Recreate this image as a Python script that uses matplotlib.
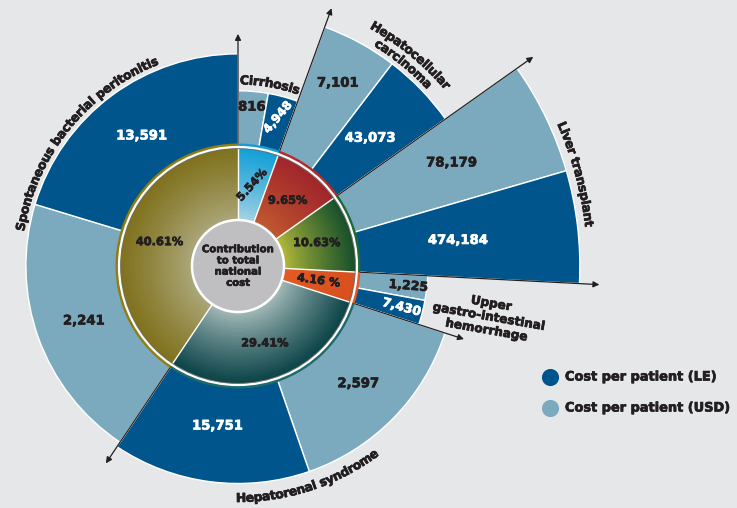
import numpy as np
import matplotlib.pyplot as plt
import matplotlib.patheffects as pe
from matplotlib.patches import Wedge, Circle
from matplotlib.colors import to_rgb
from matplotlib.font_manager import FontProperties, findfont, get_font

# data
categories = ['Cirrhosis', 'Hepatocellular carcinoma', 'Liver transplant',
              'Upper gastro-intestinal hemorrhage', 'Hepatorenal syndrome',
              'Spontaneous bacterial peritonitis']
share = [5.54, 9.65, 10.63, 4.16, 29.41, 40.61]          # % of total national cost
share_labels = ['5.54%', '9.65%', '10.63%', '4.16 %', '29.41%', '40.61%']
cost_le = [4948, 43073, 474184, 7430, 15751, 13591]
cost_usd = [816, 7101, 78179, 1225, 2597, 2241]

FONT = 'DejaVu Sans'
INK = '#231F20'
DARK = '#00558C'
LIGHT = '#7BAABF'
BG = '#E6E7E9'

ring_inner = ['#A8D4E4', '#C25A30', '#B4BA38', '#E35B26', '#A6BBBA', '#ADA87C']
ring_outer = ['#12A0D6', '#A2252A', '#17502B', '#D94F1E', '#0A4347', '#80711C']
ring_rim = ['#1A9BD0', '#B42A2A', '#1E6B35', '#E05A25', '#1F6B6C', '#8F7D12']

fig = plt.figure(figsize=(7.37, 5.08), dpi=100, facecolor=BG)
ax = fig.add_axes([0, 0, 1, 1])
ax.set_xlim(0, 737)
ax.set_ylim(0, 508)
ax.set_aspect('equal')
ax.axis('off')

cx, cy = 238, 242
r_hole, r_ring = 46, 119


def heavy(color):
    # the original uses a heavier typeface than DejaVu bold
    return [pe.withStroke(linewidth=0.5, foreground=color)]


def radius(v):
    # log scale for the outer bars
    return 84.1 * np.log10(v) - 135.5


def th(cw):
    return 90 - cw


def polar(r, t):
    return cx + r * np.cos(np.radians(t)), cy + r * np.sin(np.radians(t))


bounds = np.concatenate([[0], np.cumsum(share)]) * 360 / 100
R = [radius(v) for v in cost_le]
n = len(categories)

# outer bars: USD half first (clockwise), then LE half
for i in range(n):
    a0, a1 = bounds[i], bounds[i + 1]
    am = (a0 + a1) / 2
    ax.add_patch(Wedge((cx, cy), R[i], th(am), th(a0), fc=LIGHT, ec='white', lw=1, zorder=1))
    ax.add_patch(Wedge((cx, cy), R[i], th(a1), th(am), fc=DARK, ec='white', lw=1, zorder=1))

# arrows on category borders
for k in range(n):
    L = max(R[k - 1], R[k]) + 20
    b = bounds[k]
    ax.annotate('', xy=polar(L, th(b)), xytext=polar(r_ring, th(b)),
                arrowprops=dict(arrowstyle='-|>', color=INK, lw=0.9,
                                mutation_scale=9, shrinkA=0, shrinkB=0), zorder=2)

# inner ring with radial shading
steps = 30
w = (r_ring - r_hole) / steps
for i in range(n):
    c0, c1 = np.array(to_rgb(ring_inner[i])), np.array(to_rgb(ring_outer[i]))
    a0, a1 = bounds[i], bounds[i + 1]
    ax.add_patch(Wedge((cx, cy), r_ring + 3.5, th(a1), th(a0), width=6,
                       fc=ring_rim[i], ec='none', zorder=3))
    for j in range(steps):
        t = (j / (steps - 1)) ** 0.85
        col = (1 - t) * c0 + t * c1
        ax.add_patch(Wedge((cx, cy), r_hole + w * (j + 1), th(a1), th(a0),
                           width=w + 0.6, fc=col, ec='none', zorder=3))
    x0, y0 = polar(r_hole, th(a0))
    x1, y1 = polar(r_ring, th(a0))
    ax.plot([x0, x1], [y0, y1], color='white', lw=1, zorder=4)

ax.add_patch(Circle((cx, cy), r_ring - 1.6, fill=False, ec='#6E6E6E', lw=0.7, zorder=4))
ax.add_patch(Circle((cx, cy), r_ring, fill=False, ec='white', lw=1.6, zorder=4))
ax.add_patch(Circle((cx, cy), r_hole, fc='#BFBFC1', ec='white', lw=1.8, zorder=4))

ax.text(cx, cy, 'Contribution\nto total\nnational\ncost', ha='center', va='center',
        fontsize=7.3, family=FONT, weight='bold', color=INK, linespacing=1.15, zorder=6,
        path_effects=heavy(INK))

# share labels
pct_rot = [48, 0, 0, -8, 0, 0]
for i in range(n):
    am = (bounds[i] + bounds[i + 1]) / 2
    x, y = polar(82, th(am))
    ax.text(x, y, share_labels[i], ha='center', va='center', rotation=pct_rot[i],
            fontsize=8.2, family=FONT, weight='bold', color=INK, zorder=6,
            path_effects=heavy(INK))

# cost labels
frac_usd = [0.72, 0.66, 0.53, 0.74, 0.5, 0.48]
frac_le = [0.62, 0.48, 0.46, 0.7, 0.43, 0.46]
rot_usd = [0, 0, 0, -5, 0, 0]
rot_le = [50, 0, 0, -15, 0, 0]
fs_usd = [9.5, 9.5, 9.5, 9, 9.5, 9.5]
fs_le = [8.6, 9.5, 9.5, 9, 9.5, 9.5]
for i in range(n):
    a0, a1 = bounds[i], bounds[i + 1]
    am = (a0 + a1) / 2
    x, y = polar(r_ring + frac_usd[i] * (R[i] - r_ring), th((a0 + am) / 2))
    ax.text(x, y, f'{cost_usd[i]:,}', ha='center', va='center', rotation=rot_usd[i],
            fontsize=fs_usd[i], family=FONT, weight='bold', color=INK, zorder=6,
            path_effects=heavy(INK))
    x, y = polar(r_ring + frac_le[i] * (R[i] - r_ring), th((am + a1) / 2))
    ax.text(x, y, f'{cost_le[i]:,}', ha='center', va='center', rotation=rot_le[i],
            fontsize=fs_le[i], family=FONT, weight='bold', color='white', zorder=6,
            path_effects=heavy('white'))

# curved category labels
_font = get_font(findfont(FontProperties(family=FONT, weight='bold')))


def curved(text, r, tc, fs, bottom=False, track=0.96):
    _font.set_size(fs, 100)
    advs = np.array([_font.load_char(ord(c)).linearHoriAdvance / 65536 for c in text]) * track
    pos = np.cumsum(advs) - advs / 2 - advs.sum() / 2
    cap = 0.73 * fs * 100 / 72
    rb = r + cap / 2 if bottom else r - cap / 2
    for ch, p in zip(text, pos):
        if ch == ' ':
            continue
        d = np.degrees(p / rb)
        if bottom:
            t, rot = tc + d, tc + d + 90
        else:
            t, rot = tc - d, tc - d - 90
        x, y = polar(rb, t)
        ax.text(x, y, ch, rotation=rot, ha='center', va='baseline', rotation_mode='anchor',
                fontsize=fs, family=FONT, weight='bold', color=INK, zorder=6,
                path_effects=heavy(INK))


mid = [th((bounds[i] + bounds[i + 1]) / 2) for i in range(n)]
curved('Cirrhosis', R[0] + 11, mid[0], 8.9)
curved('Hepatocellular', R[1] + 22, mid[1] - 2, 8.9)
curved('carcinoma', R[1] + 9, mid[1] - 2, 8.9)
curved('Liver transplant', R[2] + 12, mid[2] - 1, 8.9)
curved('Hepatorenal syndrome', R[4] + 14, mid[4] - 1, 8.9, bottom=True)
curved('Spontaneous bacterial peritonitis', R[5] + 9, mid[5] - 22, 8.9)

x, y = polar(R[3] + 66, mid[3] - 1)
ax.text(x, y, 'Upper\ngastro-intestinal\nhemorrhage', ha='center', va='center', rotation=-10,
        fontsize=8.7, family=FONT, weight='bold', color=INK, linespacing=1.05, zorder=6,
        path_effects=heavy(INK))

# legend
ax.scatter([550], [131], s=128, color=DARK, zorder=6)
ax.scatter([550], [100], s=128, color=LIGHT, zorder=6)
for yy, lab in [(131, 'Cost per patient (LE)'), (100, 'Cost per patient (USD)')]:
    ax.text(565, yy, lab, va='center', fontsize=9.3, family=FONT, weight='bold',
            color=INK, path_effects=heavy(INK))

fig.savefig('out.png', dpi=100, facecolor=BG)
